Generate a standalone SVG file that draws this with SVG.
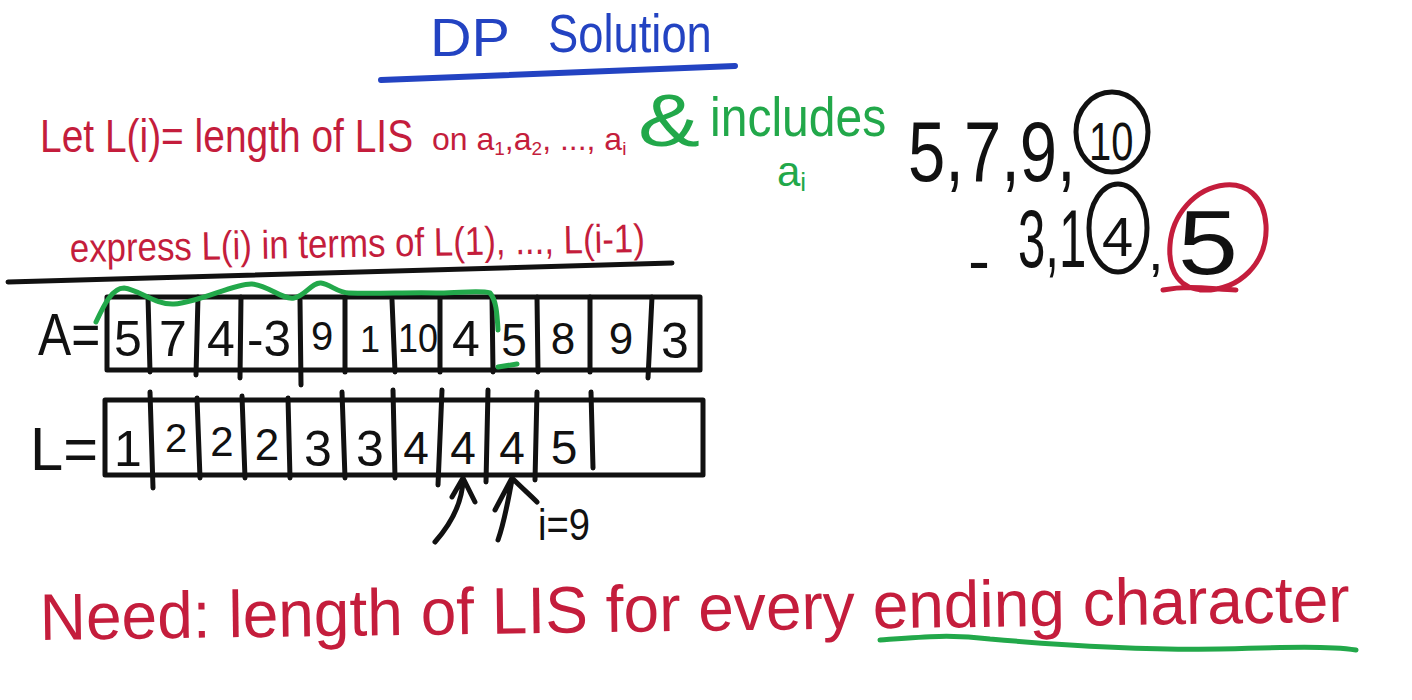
<svg xmlns="http://www.w3.org/2000/svg" width="1412" height="700" viewBox="0 0 1412 700">
<style>
.red{fill:#c41d3c;font-family:"Liberation Sans",Arial,sans-serif}
.grn{fill:#22a84a;font-family:"Liberation Sans",Arial,sans-serif}
.blu{fill:#2343c2;font-family:"Liberation Sans",Arial,sans-serif}
.blk{fill:#111;font-family:"Liberation Sans",Arial,sans-serif}
.ln{fill:none;stroke:#111;stroke-width:5;stroke-linecap:round;stroke-linejoin:round}
.gl{fill:none;stroke:#22a84a;stroke-width:5;stroke-linecap:round;stroke-linejoin:round}
.rl{fill:none;stroke:#c41d3c;stroke-width:5;stroke-linecap:round;stroke-linejoin:round}
.bl{fill:none;stroke:#2343c2;stroke-width:6;stroke-linecap:round}
</style>
<rect width="1412" height="700" fill="#fff"/>

<g id="title">
<text class="blu" x="430" y="56" font-size="54" textLength="80" lengthAdjust="spacingAndGlyphs">DP</text>
<text class="blu" transform="translate(548,52) scale(0.84,1)" font-size="54" textLength="195" lengthAdjust="spacingAndGlyphs">Solution</text>
<path class="bl" d="M381,80 L735,66"/>
</g>

<g id="definition">
<text class="red" transform="translate(40,152) scale(0.846,1)" font-size="46" textLength="441" lengthAdjust="spacingAndGlyphs">Let L(i)= length of LIS</text>
<text class="red" x="432" y="150" font-size="32">on a<tspan font-size="19" dy="5">1</tspan><tspan dy="-5">,a</tspan><tspan font-size="19" dy="5">2</tspan><tspan dy="-5">, ..., a</tspan><tspan font-size="19" dy="5">i</tspan></text>
<text class="grn" x="638" y="146" font-size="74" textLength="62" lengthAdjust="spacingAndGlyphs">&amp;</text>
<text class="grn" transform="translate(710,136) scale(0.86,1)" font-size="56" textLength="205" lengthAdjust="spacingAndGlyphs">includes</text>
<text class="grn" x="777" y="186" font-size="42">a<tspan font-size="26" dy="5">i</tspan></text>
</g>

<g id="express">
<text class="red" transform="translate(70,262) rotate(-1) scale(0.8,1)" font-size="40" textLength="719" lengthAdjust="spacingAndGlyphs">express L(i) in terms of L(1), ..., L(i-1)</text>
<path class="ln" d="M8,282 L672,263"/>
</g>

<g id="array-A">
<text class="blk" transform="translate(38,355) scale(0.83,1)" font-size="60" textLength="75" lengthAdjust="spacingAndGlyphs">A=</text>
<rect class="ln" x="107" y="297" width="593" height="73"/>
<path class="ln" d="M148,297 L150,372 M198,297 L196,375 M241,297 L240,378 M300,300 L301,385 M345,297 L345,372 M392,300 L395,372 M440,297 L440,372 M492,297 L493,372 M537,297 L538,372 M590,297 L590,372 M652,297 L648,378"/>
<g class="blk" font-size="50" text-anchor="middle">
<text x="128" y="356">5</text>
<text x="173" y="356">7</text>
<text x="221" y="356">4</text>
<text x="269" y="356" textLength="44" lengthAdjust="spacingAndGlyphs">-3</text>
<text x="322" y="350" font-size="40">9</text>
<text x="370" y="352" font-size="36">1</text>
<text x="418" y="352" font-size="40" textLength="40" lengthAdjust="spacingAndGlyphs">10</text>
<text x="466" y="356">4</text>
<text x="514" y="356" font-size="46">5</text>
<text x="563" y="354" font-size="44">8</text>
<text x="621" y="354" font-size="44">9</text>
<text x="675" y="358">3</text>
</g>
<path class="gl" d="M96,322 C104,305 112,288 124,288 C140,290 155,305 174,304 C200,302 235,283 252,284 C268,285 282,300 294,298 C305,296 312,282 321,283 C330,284 338,293 349,293 C380,294 410,292 440,293 C460,293 480,290 490,293 C496,300 497,312 498,330"/>
<path class="gl" d="M498,367 L517,364"/>
</g>

<g id="array-L">
<text class="blk" x="30" y="470" font-size="62" textLength="68" lengthAdjust="spacingAndGlyphs">L=</text>
<rect class="ln" x="105" y="400" width="598" height="75"/>
<path class="ln" d="M150,392 L153,488 M197,398 L200,478 M242,396 L245,478 M288,398 L290,478 M342,392 L345,478 M393,390 L395,478 M442,390 L438,485 M488,390 L486,482 M537,392 L535,480 M591,392 L593,468"/>
<g class="blk" font-size="50" text-anchor="middle">
<text x="128" y="466">1</text>
<text x="176" y="452" font-size="40">2</text>
<text x="222" y="456" font-size="42">2</text>
<text x="267" y="460" font-size="44">2</text>
<text x="318" y="466">3</text>
<text x="370" y="466">3</text>
<text x="416" y="464" font-size="46">4</text>
<text x="463" y="464" font-size="46">4</text>
<text x="512" y="464" font-size="46">4</text>
<text x="564" y="464" font-size="48">5</text>
</g>
</g>

<g id="pointers">
<path class="ln" d="M435,542 C450,525 462,505 463,480 M452,497 L463,478 L475,502"/>
<path class="ln" d="M498,540 C505,520 508,500 512,480 M495,510 L512,478 C522,488 530,495 537,502"/>
<text class="blk" x="538" y="540" font-size="44" textLength="52" lengthAdjust="spacingAndGlyphs">i=9</text>
</g>

<g id="example">
<text class="blk" transform="translate(908,181) scale(0.78,1)" font-size="86" textLength="215" lengthAdjust="spacingAndGlyphs">5,7,9,</text>
<text class="blk" transform="translate(1089,160) scale(0.74,1)" font-size="54" textLength="60" lengthAdjust="spacingAndGlyphs">10</text>
<ellipse class="ln" cx="1112" cy="132" rx="36" ry="40"/>
<text class="blk" x="968" y="283" font-size="64" textLength="22" lengthAdjust="spacingAndGlyphs">-</text>
<text class="blk" transform="translate(1018,267) scale(0.6,1)" font-size="82" textLength="114" lengthAdjust="spacingAndGlyphs">3,1</text>
<text class="blk" x="1102" y="256" font-size="56">4</text>
<ellipse class="ln" cx="1118" cy="228" rx="29" ry="44"/>
<text class="blk" x="1148" y="270" font-size="56">,</text>
<text class="blk" x="1178" y="274" font-size="90" textLength="60" lengthAdjust="spacingAndGlyphs">5</text>
<path class="rl" d="M1200,290 C1240,292 1268,262 1266,225 C1264,195 1245,183 1225,185 C1195,188 1172,215 1170,245 C1168,272 1180,290 1205,290 M1163,290 C1190,285 1210,289 1236,290"/>
</g>

<g id="need">
<text class="red" x="40" y="640" font-size="66" textLength="1310" lengthAdjust="spacingAndGlyphs" transform="rotate(-0.8 40 640)">Need: length of LIS for every ending character</text>
<path class="gl" d="M880,640 C920,637 950,634 990,639 C1060,645 1150,650 1220,649 C1290,647 1330,646 1356,650"/>
</g>
</svg>
